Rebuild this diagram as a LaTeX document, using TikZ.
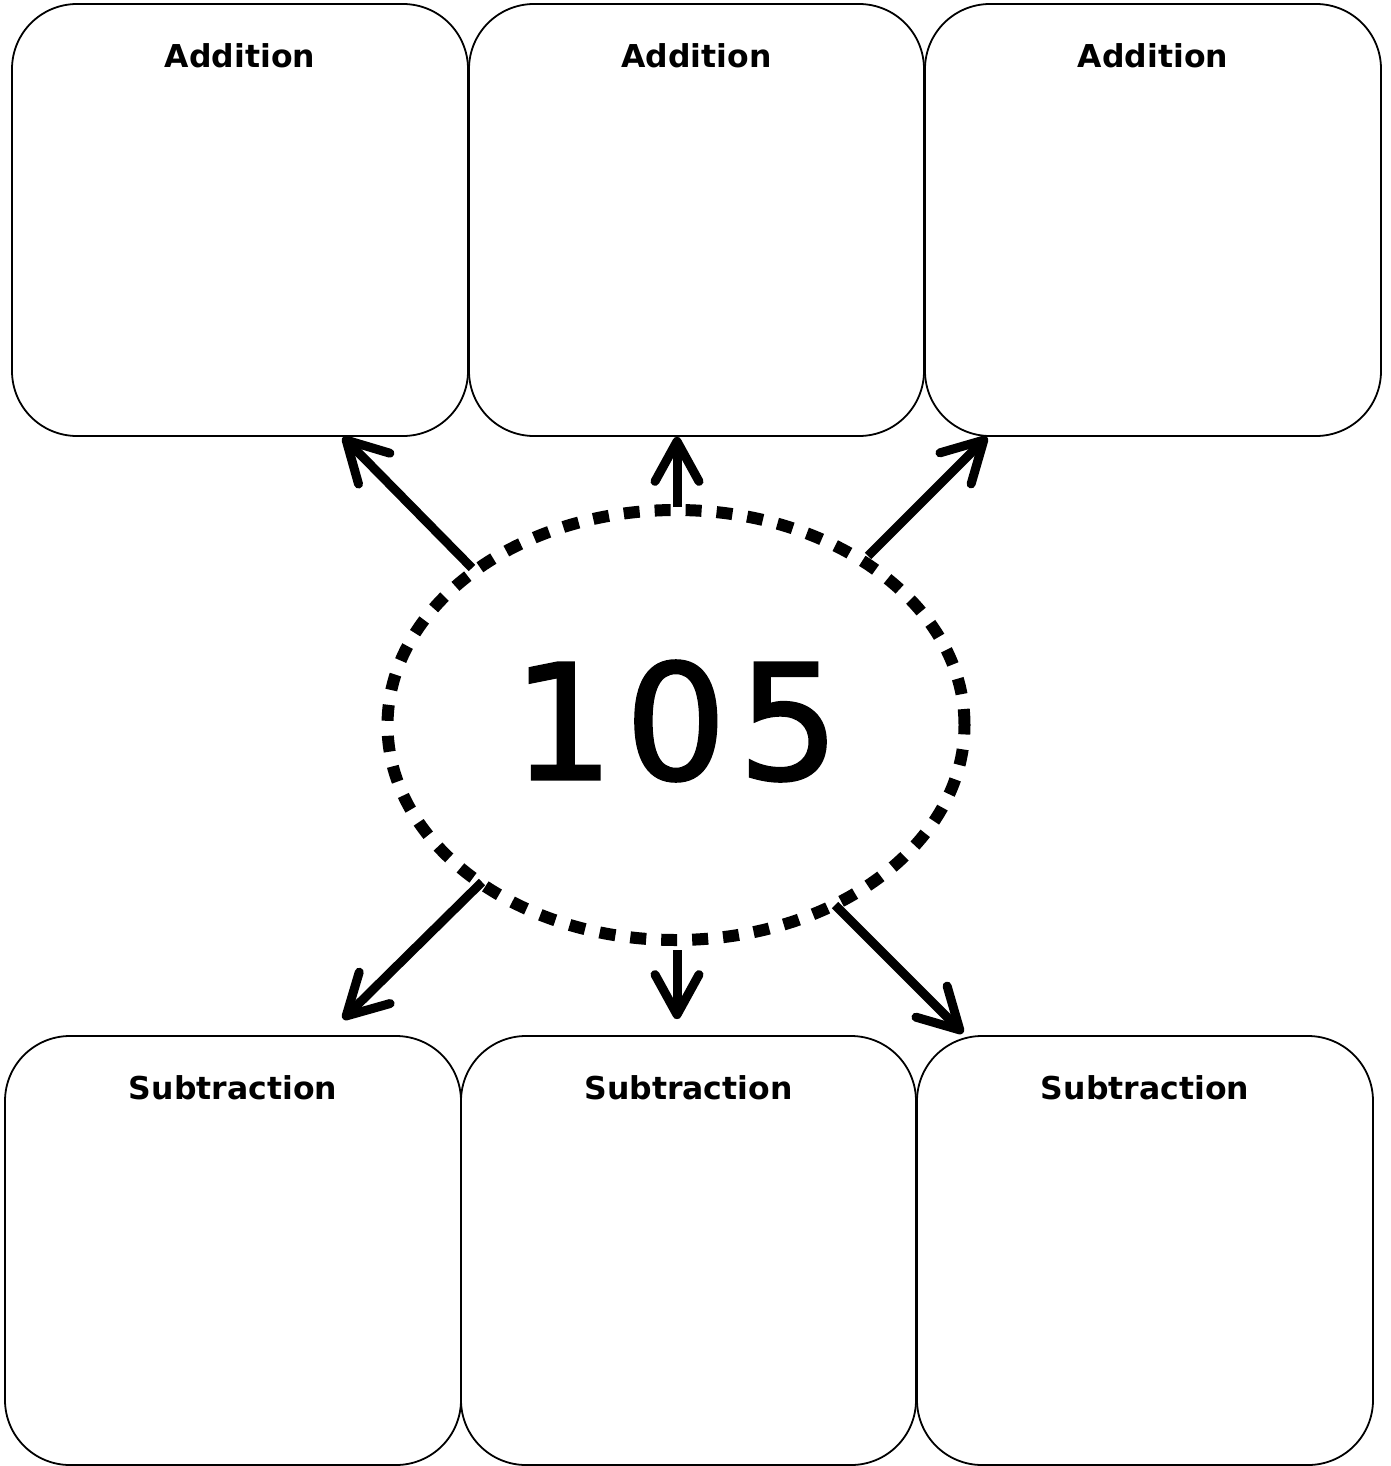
\documentclass[tikz,border=0pt]{standalone}
\usepackage{fontspec}
\setmainfont{DejaVu Sans}
\newfontfamily\numfont[FakeBold=1.6]{DejaVu Sans}
\usetikzlibrary{arrows.meta,shapes.geometric}
\begin{document}
\begin{tikzpicture}[x=1pt,y=-1pt,
  box/.style={draw=black,line width=1.8pt,rounded corners=65pt,minimum width=456pt,minimum height=432pt,inner sep=0pt},
  title/.style={font=\fontsize{31.5}{35}\selectfont\bfseries,inner sep=0pt},
  arr/.style={line width=9pt,-{Straight Barb[length=40pt,width=44pt,round]}},
  ring/.style={ellipse,draw=black,line width=12pt,dash pattern=on 16pt off 15pt,minimum width=577pt,minimum height=430pt,inner sep=0pt}]
\useasboundingbox (0,0) rectangle (1390,1466);
% top boxes
\node[box] (b1) at (240,220) {};
\node[box,minimum width=455pt] (b2) at (696.5,220) {};
\node[box] (b3) at (1153,220) {};
% bottom boxes
\node[box,minimum height=429pt] (b4) at (233,1250.5) {};
\node[box,minimum height=429pt,minimum width=455pt] (b5) at (688.5,1250.5) {};
\node[box,minimum height=429pt] (b6) at (1145,1250.5) {};
% titles
\node[title] (t1) at (240,56) {Addition};
\node[title] (t2) at (696.5,56) {Addition};
\node[title] (t3) at (1153,56) {Addition};
\node[title] (t4) at (233,1088) {Subtraction};
\node[title] (t5) at (688.5,1088) {Subtraction};
\node[title] (t6) at (1145,1088) {Subtraction};
% center ellipse
\node[ring] (e) at (676,725) {};
\node[inner sep=0pt,font=\numfont\fontsize{160}{170}\selectfont] (num) at (676,721) {1\hspace{11pt}0\hspace{11pt}5};
% arrow starts
\coordinate (s1) at (472,568);
\coordinate (s2) at (677,507);
\coordinate (s3) at (868,556);
\coordinate (s4) at (482,882);
\coordinate (s5) at (677,950);
\coordinate (s6) at (835,905);
% arrows
\draw[arr] (s1) -- ([xshift=103pt]b1.south);
\draw[arr] (s2) -- ([xshift=-19.5pt]b2.south);
\draw[arr] (s3) -- ([xshift=-166pt]b3.south);
\draw[arr] (s4) -- ([xshift=110pt,yshift=16pt]b4.north);
\draw[arr] (s5) -- ([xshift=-11.5pt,yshift=16pt]b5.north);
\draw[arr] (s6) -- ([xshift=-182pt,yshift=2pt]b6.north);
\end{tikzpicture}
\end{document}
